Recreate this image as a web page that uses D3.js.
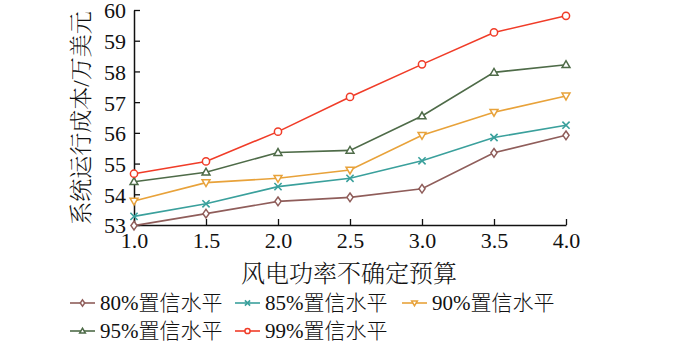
<!DOCTYPE html>
<html><head><meta charset="utf-8">
<script src="https://cdn.jsdelivr.net/npm/d3@7"></script>
<style>
html,body{margin:0;padding:0;background:#fff;}
svg text{font-family:"Liberation Serif","Times New Roman","Noto Serif CJK SC","Noto Sans CJK SC",serif;fill:#111;}
</style></head><body>
<svg id="c" width="700" height="345"></svg>
<script>
const budgets = [1.0, 1.5, 2.0, 2.5, 3.0, 3.5, 4.0];
const xTicks = [1.0, 1.5, 2.0, 2.5, 3.0, 3.5, 4.0];
const yTicks = [53, 54, 55, 56, 57, 58, 59, 60];
const seriesNames = ["80%置信水平", "85%置信水平", "90%置信水平", "95%置信水平", "99%置信水平"];
const seriesColors = ["#8f5d5a", "#3aa09c", "#e8a23a", "#4e6b48", "#f03c28"];
const seriesMarkers = ["diamond", "cross", "triDown", "triUp", "circle"];
const v80 = [52.98, 53.37, 53.77, 53.90, 54.18, 55.35, 55.92];
const v85 = [53.28, 53.69, 54.25, 54.52, 55.09, 55.85, 56.25];
const v90 = [53.78, 54.38, 54.52, 54.79, 55.92, 56.67, 57.20];
const v95 = [54.41, 54.72, 55.36, 55.43, 56.55, 57.97, 58.22];
const v99 = [54.67, 55.07, 56.04, 57.17, 58.23, 59.27, 59.81];
const allValues = [v80, v85, v90, v95, v99];

const svg = d3.select("#c");
const x = d3.scaleLinear().domain([1, 4]).range([134, 566]);
const y = d3.scaleLinear().domain([53, 60]).range([225, 10]);

const cjk = '"Noto Sans CJK SC", sans-serif';
const num = '"Liberation Serif", "Times New Roman", serif';

// axes
const xAxis = d3.axisBottom(x).tickValues(xTicks).tickFormat(d3.format(".1f")).tickSizeInner(-6).tickSizeOuter(0).tickPadding(7);
const gx = svg.append("g").attr("transform", `translate(0,${y(53)})`).call(xAxis);
const yAxis = d3.axisLeft(y).tickValues(yTicks).tickFormat(d3.format("d")).tickSizeInner(-6).tickSizeOuter(0).tickPadding(8);
const gy = svg.append("g").attr("transform", `translate(${x(1)},0)`).call(yAxis);
[gx, gy].forEach(g => {
  g.select(".domain").attr("stroke", "#111").attr("stroke-width", 1.5);
  g.selectAll(".tick line").attr("stroke", "#111").attr("stroke-width", 1.3);
  g.selectAll(".tick text").attr("font-family", num).attr("font-size", 22).attr("fill", "#111");
});
gx.selectAll(".tick text").attr("dy", "0.72em");
gy.selectAll(".tick text").attr("dy", "0.36em");

// axis titles
svg.append("text").attr("x", 349).attr("y", 273).attr("dy", "0.36em").attr("text-anchor", "middle")
  .attr("font-family", cjk).attr("font-weight", 300).attr("font-size", 24).text("风电功率不确定预算");
svg.append("text").attr("transform", "translate(81,118) rotate(-90)").attr("dy", "0.36em").attr("text-anchor", "middle")
  .attr("font-family", cjk).attr("font-weight", 300).attr("font-size", 23).text("系统运行成本/万美元");

function drawMarker(g, type, cx, cy, color, s) {
  if (type === "circle") {
    g.append("circle").attr("cx", cx).attr("cy", cy).attr("r", s).attr("fill", "#fff").attr("stroke", color).attr("stroke-width", 1.5);
  } else if (type === "diamond") {
    g.append("path").attr("d", `M${cx},${cy - s * 1.2}L${cx + s * 0.85},${cy}L${cx},${cy + s * 1.2}L${cx - s * 0.85},${cy}Z`)
      .attr("fill", "#fff").attr("stroke", color).attr("stroke-width", 1.5);
  } else if (type === "cross") {
    g.append("path").attr("d", `M${cx - s},${cy - s}L${cx + s},${cy + s}M${cx - s},${cy + s}L${cx + s},${cy - s}`)
      .attr("stroke", color).attr("stroke-width", 1.6).attr("fill", "none");
  } else if (type === "triDown") {
    g.append("path").attr("d", `M${cx - s * 1.1},${cy - s * 0.8}L${cx + s * 1.1},${cy - s * 0.8}L${cx},${cy + s * 1.1}Z`)
      .attr("fill", "#fff").attr("stroke", color).attr("stroke-width", 1.5);
  } else if (type === "triUp") {
    g.append("path").attr("d", `M${cx - s * 1.1},${cy + s * 0.8}L${cx + s * 1.1},${cy + s * 0.8}L${cx},${cy - s * 1.1}Z`)
      .attr("fill", "#fff").attr("stroke", color).attr("stroke-width", 1.5);
  }
}

const line = d3.line().x((d, i) => x(budgets[i])).y(d => y(d));
allValues.forEach((vals, si) => {
  const g = svg.append("g");
  g.append("path").datum(vals).attr("d", line).attr("fill", "none").attr("stroke", seriesColors[si]).attr("stroke-width", 1.6);
  vals.forEach((v, i) => drawMarker(g, seriesMarkers[si], x(budgets[i]), y(v), seriesColors[si], 3.6));
});

// legend
const legPos = [[70, 303], [235, 303], [402, 303], [70, 331], [235, 331]];
seriesNames.forEach((name, si) => {
  const [lx, ly] = legPos[si];
  const g = svg.append("g");
  g.append("line").attr("x1", lx).attr("x2", lx + 25).attr("y1", ly).attr("y2", ly).attr("stroke", seriesColors[si]).attr("stroke-width", 1.6);
  drawMarker(g, seriesMarkers[si], lx + 12.5, ly, seriesColors[si], 2.6);
  const t = g.append("text").attr("x", lx + 30).attr("y", ly).attr("dy", "0.35em").attr("font-size", 21);
  const m = name.match(/^([\d%]+)(.*)$/);
  t.append("tspan").attr("font-family", num).text(m[1]);
  t.append("tspan").attr("font-family", cjk).attr("font-weight", 300).text(m[2]);
});
</script>
</body></html>
